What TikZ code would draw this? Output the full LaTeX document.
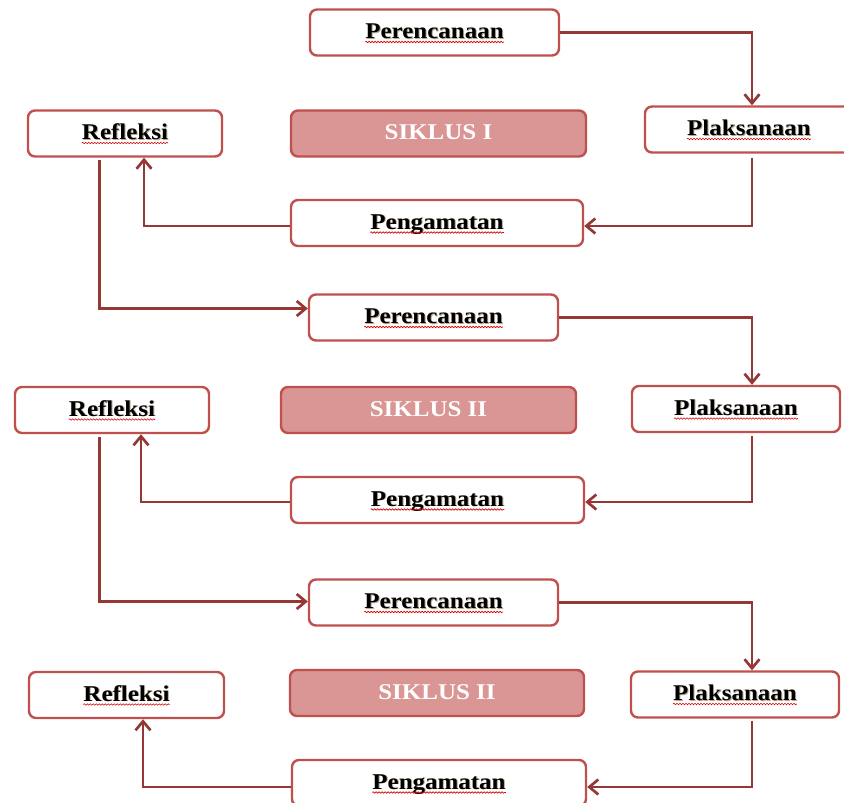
\documentclass[tikz,border=0pt]{standalone}
\usepackage{fontspec}
\usepackage{graphicx}
\setmainfont{Liberation Serif}
\usetikzlibrary{arrows.meta,decorations.pathmorphing}
\definecolor{bord}{HTML}{C0504D}
\definecolor{arrc}{HTML}{953735}
\definecolor{sfill}{HTML}{D99694}
\definecolor{tshadow}{HTML}{B8A890}
\newcommand{\lbl}[1]{\scalebox{1.11}[1]{\rlap{\raisebox{-0.9pt}{\hspace{0.9pt}\textcolor{tshadow}{#1}}}#1}}
\newcommand{\slbl}[1]{\scalebox{1.11}[1]{#1}}
\newcommand{\squigline}[1]{\draw[squigsty] ([yshift=-3.5pt]#1.base west) -- ([yshift=-3.5pt]#1.base east);}
\begin{document}
\begin{tikzpicture}[x=1pt,y=-1pt,
  box/.style={draw=bord, line width=2.4pt, rounded corners=7pt, fill=white,
    minimum height=46pt, inner sep=0pt},
  sbox/.style={box, fill=sfill},
  txt/.style={inner sep=0pt, anchor=base, font=\fontsize{22.5}{27}\selectfont\bfseries},
  stxt/.style={txt, text=white},
  arr/.style={draw=arrc, line width=2.7pt,
    -{Straight Barb[length=9pt,width=15pt]}},
  squigsty/.style={draw=red!85!black, line width=0.6pt,
    decorate, decoration={snake, segment length=3pt, amplitude=0.8pt}}
]
\useasboundingbox (0,0) rectangle (844,803);

% ---------- Cycle 1 ----------
\node[box, minimum width=249pt] (P1) at (434.5,32.5) {};
\node[sbox, minimum width=295pt] (S1) at (438.5,133.5) {};
\node[box, minimum width=194pt] (R1) at (125,133.5) {};
\node[box, minimum width=208pt] (L1) at (749,129.5) {};
\node[box, minimum width=292pt] (G1) at (437,223) {};
\node[txt] (P1t) at (434.5,38.5) {\lbl{Perencanaan}};
\node[stxt] (S1t) at (438.5,139.5) {\slbl{SIKLUS I}};
\node[txt] (R1t) at (125,139.5) {\lbl{Refleksi}};
\node[txt] (L1t) at (749,135.5) {\lbl{Plaksanaan}};
\node[txt] (G1t) at (437,229) {\lbl{Pengamatan}};

% ---------- Cycle 2 ----------
\node[box, minimum width=249pt] (P2) at (433.5,317.5) {};
\node[sbox, minimum width=295pt] (S2) at (428.5,410) {};
\node[box, minimum width=194pt] (R2) at (112,410) {};
\node[box, minimum width=208pt] (L2) at (736,409) {};
\node[box, minimum width=293pt] (G2) at (437.5,500) {};
\node[txt] (P2t) at (433.5,323.5) {\lbl{Perencanaan}};
\node[stxt] (S2t) at (428.5,416) {\slbl{SIKLUS II}};
\node[txt] (R2t) at (112,416) {\lbl{Refleksi}};
\node[txt] (L2t) at (736,415) {\lbl{Plaksanaan}};
\node[txt] (G2t) at (437.5,506) {\lbl{Pengamatan}};

% ---------- Cycle 3 ----------
\node[box, minimum width=249pt] (P3) at (433.5,602.5) {};
\node[sbox, minimum width=294pt] (S3) at (437,693) {};
\node[box, minimum width=195pt] (R3) at (126.5,695) {};
\node[box, minimum width=208pt] (L3) at (735,694.5) {};
\node[box, minimum width=294pt] (G3) at (439,783) {};
\node[txt] (P3t) at (433.5,608.5) {\lbl{Perencanaan}};
\node[stxt] (S3t) at (437,699) {\slbl{SIKLUS II}};
\node[txt] (R3t) at (126.5,701) {\lbl{Refleksi}};
\node[txt] (L3t) at (735,700.5) {\lbl{Plaksanaan}};
\node[txt] (G3t) at (439,789) {\lbl{Pengamatan}};

% ---------- spell-check squiggles ----------
\foreach \n in {P1t,R1t,L1t,G1t,P2t,R2t,L2t,G2t,P3t,R3t,L3t,G3t}{\squigline{\n}}

% ---------- connectors ----------
\draw[arr] (P1.east) -| ([xshift=3pt]L1.north);
\draw[arr, shorten <=4pt] ([xshift=3pt]L1.south) |- ([yshift=-3pt]G1.east);
\draw[arr] ([yshift=-3pt]G1.west) -| ([xshift=19pt]R1.south);
\draw[arr, shorten <=2pt] ([xshift=-25.5pt]R1.south) |- ([yshift=9pt]P2.west);

\draw[arr] (P2.east) -| ([xshift=16pt]L2.north);
\draw[arr, shorten <=3pt] ([xshift=16pt]L2.south) |- ([yshift=-2pt]G2.east);
\draw[arr] ([yshift=-2pt]G2.west) -| ([xshift=29pt]R2.south);
\draw[arr, shorten <=3pt] ([xshift=-12.5pt]R2.south) |- ([yshift=1pt]P3.west);

\draw[arr] (P3.east) -| ([xshift=17pt]L3.north);
\draw[arr, shorten <=2pt] ([xshift=17pt]L3.south) |- ([yshift=-4pt]G3.east);
\draw[arr] ([yshift=-4pt]G3.west) -| ([xshift=16.5pt]R3.south);
\end{tikzpicture}
\end{document}
